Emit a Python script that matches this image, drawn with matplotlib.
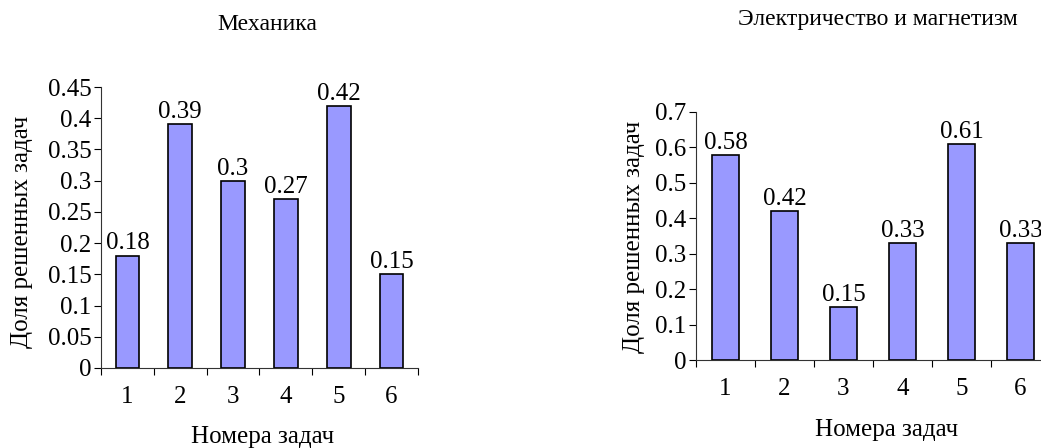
import matplotlib
matplotlib.use("Agg")
import matplotlib.pyplot as plt
from matplotlib.ticker import FuncFormatter, FixedLocator

plt.rcParams["font.family"] = ["Liberation Serif", "DejaVu Serif"]

tasks = [1, 2, 3, 4, 5, 6]
mech_share = [0.18, 0.39, 0.3, 0.27, 0.42, 0.15]
elec_share = [0.58, 0.42, 0.15, 0.33, 0.61, 0.33]
mech_title = "Механика"
elec_title = "Электричество и магнетизм"
x_label = "Номера задач"
y_label = "Доля решенных задач"

BAR_COLOR = "#9999ff"
FS = 18


def draw_panel(ax, values, ymax, ystep):
    ax.bar(tasks, values, width=0.45, color=BAR_COLOR, edgecolor="black", linewidth=1.2)
    for x, v in zip(tasks, values):
        ax.text(x, v + ymax * 0.004, f"{v:g}", ha="center", va="bottom", fontsize=FS)

    ax.set_xlim(0.5, len(tasks) + 0.5)
    ax.set_ylim(0, ymax)
    n = int(round(ymax / ystep))
    ax.set_yticks([i * ystep for i in range(n + 1)])
    ax.yaxis.set_major_formatter(FuncFormatter(lambda v, p: f"{round(v, 3):g}"))

    # boundary ticks between categories, labels centred on bars
    ax.xaxis.set_major_locator(FixedLocator([i + 0.5 for i in range(len(tasks) + 1)]))
    ax.xaxis.set_minor_locator(FixedLocator(tasks))
    ax.tick_params(axis="x", which="major", length=5, labelbottom=False, direction="out")
    ax.tick_params(axis="x", which="minor", length=0, pad=13, labelsize=FS)
    ax.set_xticklabels([str(t) for t in tasks], minor=True)
    ax.tick_params(axis="y", length=5, labelsize=FS, pad=2)

    for s in ("top", "right"):
        ax.spines[s].set_visible(False)
    ax.spines["left"].set_color("#333333")
    ax.spines["bottom"].set_color("#333333")


fig = plt.figure(figsize=(10.41, 4.48), dpi=100)

ax1 = fig.add_axes([0.0970, 0.1786, 0.3045, 0.6272])
draw_panel(ax1, mech_share, 0.45, 0.05)
ax2 = fig.add_axes([0.6686, 0.1964, 0.3400, 0.5536])
draw_panel(ax2, elec_share, 0.7, 0.1)

fig.text(267 / 1041, 1 - 24 / 448, mech_title, ha="center", va="center", fontsize=17)
fig.text(878 / 1041, 1 - 20 / 448, elec_title, ha="center", va="center", fontsize=17)
fig.text(263 / 1041, 1 - 437 / 448, x_label, ha="center", va="center", fontsize=FS)
fig.text(887 / 1041, 1 - 430 / 448, x_label, ha="center", va="center", fontsize=FS)
fig.text(22 / 1041, 1 - 232 / 448, y_label, ha="center", va="center", rotation=90, fontsize=FS)
fig.text(634 / 1041, 1 - 237 / 448, y_label, ha="center", va="center", rotation=90, fontsize=FS)

fig.savefig("out.png", dpi=100)
